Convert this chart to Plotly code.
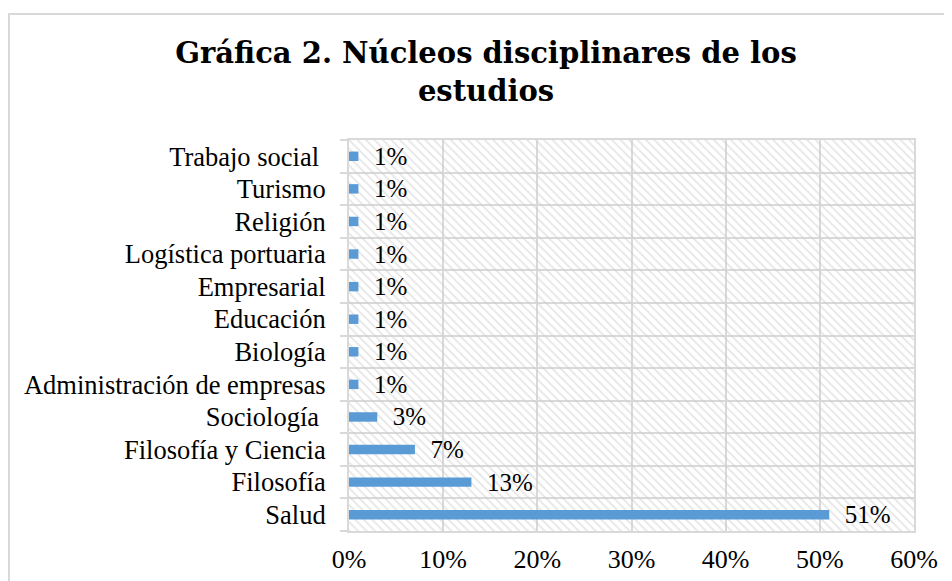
import plotly.graph_objects as go

# Data (bottom to top as drawn)
categories = ["Salud", "Filosofía", "Filosofía y Ciencia", "Sociología\u00a0",
              "Administración de empresas", "Biología", "Educación", "Empresarial",
              "Logística portuaria", "Religión", "Turismo", "Trabajo social\u00a0"]
values = [0.51, 0.13, 0.07, 0.03, 0.01, 0.01, 0.01, 0.01, 0.01, 0.01, 0.01, 0.01]
x_max = 0.6
x_ticks = [0, 0.1, 0.2, 0.3, 0.4, 0.5, 0.6]
title_text = "Gráfica 2. Núcleos disciplinares de los<br>estudios"

OFF = 8  # default page body margin
W, H = 952 - OFF, 581 - OFF
L, R, T, B = 349 - OFF, 914 - OFF, 140 - OFF, 531 - OFF

body_font = "Liberation Serif"
grid = "#d9d9d9"

fig = go.Figure()

# hatched plot-area background
fig.add_trace(go.Bar(
    y=categories, x=[x_max] * len(categories), orientation="h",
    width=1, hoverinfo="skip", showlegend=False,
    marker=dict(color="rgba(0,0,0,0)", line=dict(width=0),
                pattern=dict(shape="\\", fgcolor="#cccccc", bgcolor="rgba(0,0,0,0)",
                             size=6, solidity=0.3)),
))

fig.add_trace(go.Bar(
    y=categories, x=values, orientation="h", width=0.29,
    marker=dict(color="#5b9bd5", line=dict(width=0)),
    texttemplate="\u00a0\u00a0%{x:.0%}", textposition="outside",
    textfont=dict(family=body_font, size=25, color="#000000"),
    constraintext="none", cliponaxis=False, showlegend=False,
))

fig.update_layout(
    width=W, height=H,
    margin=dict(l=L, r=W - R, t=T, b=H - B, pad=0, autoexpand=False),
    paper_bgcolor="white", plot_bgcolor="white",
    barmode="overlay",
    title=dict(text=title_text, x=(486 - OFF) / W, xanchor="center", xref="container",
               y=1 - (63 - OFF) / H, yanchor="top", yref="container",
               font=dict(family="DejaVu Serif", size=29, color="#000000", weight="bold")),
    xaxis=dict(range=[0, x_max], tickvals=x_ticks, tickformat=".0%",
               automargin=False,
               showgrid=True, gridcolor=grid, gridwidth=2,
               showline=True, linecolor=grid, linewidth=2, mirror=True,
               zeroline=False, ticks="", ticklabelstandoff=4,
               tickfont=dict(family=body_font, size=26, color="#000000")),
    yaxis=dict(type="category", categoryorder="array", categoryarray=categories,
               automargin=False,
               tickson="boundaries", ticks="outside", ticklen=7, tickcolor=grid, tickwidth=2,
               showgrid=True, gridcolor=grid, gridwidth=2,
               showline=True, linecolor=grid, linewidth=2, mirror=True,
               ticklabelstandoff=16,
               tickfont=dict(family=body_font, size=26.5, color="#000000")),
    shapes=[dict(type="rect", xref="paper", yref="paper",
                 x0=(1 - L) / (R - L), x1=(965 - OFF - L) / (R - L),
                 y0=(B - 600) / (B - T), y1=(B - (14 - OFF)) / (B - T),
                 line=dict(color="#d9d9d9", width=2), fillcolor="rgba(0,0,0,0)", layer="below")],
)

fig.write_html("out.html")
